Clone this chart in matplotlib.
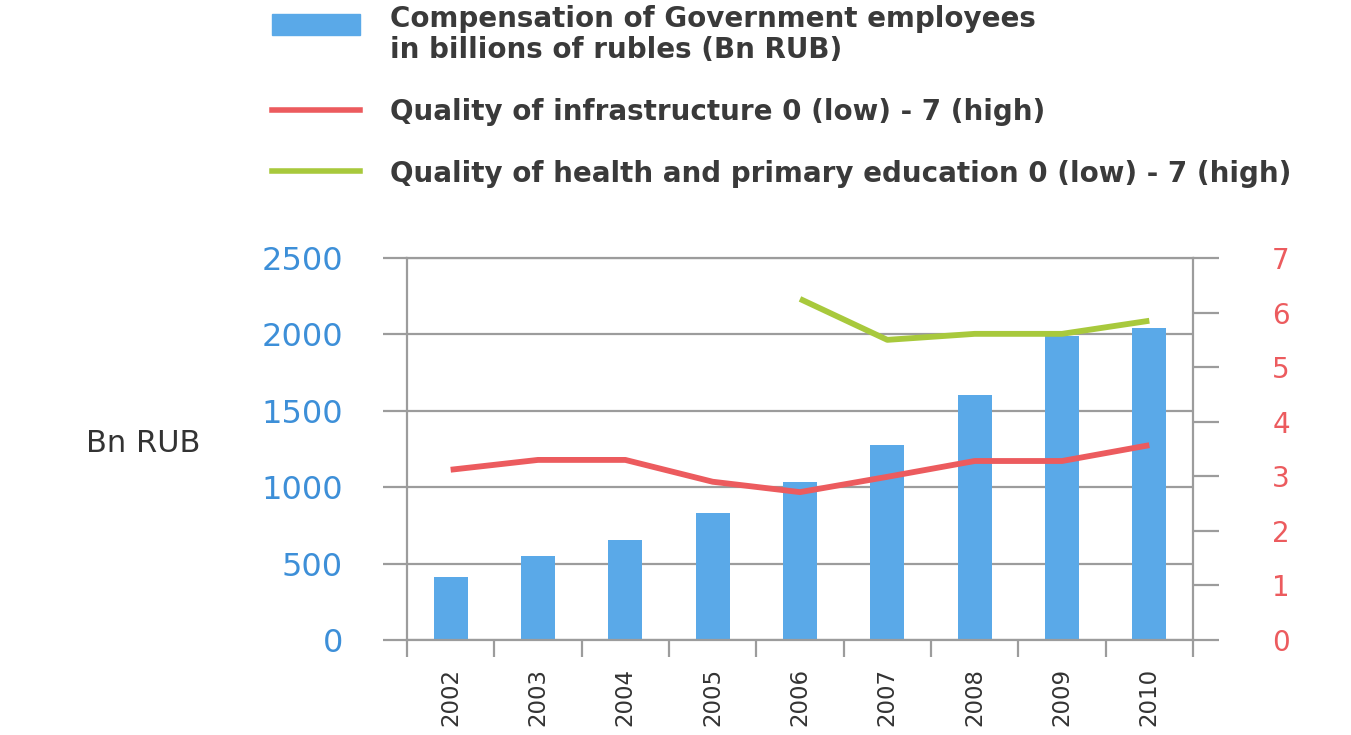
import matplotlib
matplotlib.use("Agg")
import matplotlib.pyplot as plt
import numpy as np
from matplotlib.patches import Rectangle
from matplotlib.lines import Line2D

years = ["2002", "2003", "2004", "2005", "2006", "2007", "2008", "2009", "2010"]
compensation = [412, 550, 654, 831, 1034, 1276, 1603, 1990, 2042]
infrastructure = [3.12, 3.30, 3.30, 2.90, 2.71, 2.99, 3.28, 3.28, 3.57]
health_years = ["2006", "2007", "2008", "2009", "2010"]
health_education = [6.25, 5.50, 5.61, 5.61, 5.85]

bar_color = "#5aa9e8"
red = "#ec5b5e"
green = "#a8c93c"
grid_gray = "#9c9c9c"
text_dark = "#333333"

fig = plt.figure(figsize=(13.51, 7.35), dpi=100)
ax = fig.add_axes([0.30125, 0.12925, 0.5818, 0.51973])
ax2 = ax.twinx()

x = np.arange(len(years))
ax.bar(x, compensation, width=0.39, color=bar_color, zorder=2)

ax.set_xlim(-0.5, len(years) - 0.5)
ax.set_ylim(0, 2500)
ax.set_yticks(np.arange(0, 2501, 500))
ax.yaxis.grid(True, color=grid_gray, linewidth=1.6, zorder=0)
ax.set_axisbelow(True)
ax.tick_params(axis="y", colors=grid_gray, length=17, width=1.6, pad=29,
               labelsize=23, labelcolor="#3d8fd8")

ax.set_xticks(x, years, rotation=90)
ax.set_xticks(np.arange(-0.5, len(years)), minor=True)
ax.tick_params(axis="x", which="major", length=0, pad=20, labelsize=16.5,
               labelcolor=text_dark)
ax.tick_params(axis="x", which="minor", length=12, width=1.6, color=grid_gray)

for s in ax.spines.values():
    s.set_color(grid_gray)
    s.set_linewidth(1.6)

ax.set_ylabel("Bn RUB", rotation=0, fontsize=22, color=text_dark,
              ha="right", va="center")
ax.yaxis.set_label_coords(-0.263, 0.515)

hx = [years.index(y) for y in health_years]
ax2.plot(x, infrastructure, color=red, linewidth=4.2, solid_capstyle="butt")
ax2.plot(hx, health_education, color=green, linewidth=4.2, solid_capstyle="butt")
ax2.set_ylim(0, 7)
ax2.set_yticks(range(0, 8))
ax2.tick_params(axis="y", colors=grid_gray, length=19, width=1.6, pad=38,
                labelsize=20, labelcolor=red)
for s in ax2.spines.values():
    s.set_visible(False)

# legend drawn at the top of the figure
W, H = 1351, 735
fig.add_artist(Rectangle((272 / W, 1 - 35 / H), 88 / W, 21 / H,
                         transform=fig.transFigure, color=bar_color))
fig.add_artist(Line2D([272 / W, 360 / W], [1 - 110 / H] * 2,
                      transform=fig.transFigure, color=red, linewidth=4))
fig.add_artist(Line2D([272 / W, 360 / W], [1 - 171 / H] * 2,
                      transform=fig.transFigure, color=green, linewidth=4))
leg_kw = dict(fontsize=20, fontweight="bold", color="#3a3a3a", ha="left",
              va="baseline")
fig.text(390 / W, 1 - 27 / H, "Compensation of Government employees", **leg_kw)
fig.text(390 / W, 1 - 58 / H, "in billions of rubles (Bn RUB)", **leg_kw)
fig.text(390 / W, 1 - 120 / H, "Quality of infrastructure 0 (low) - 7 (high)",
         **leg_kw)
fig.text(390 / W, 1 - 182 / H,
         "Quality of health and primary education 0 (low) - 7 (high)",
         **leg_kw)

fig.savefig("out.png", dpi=100)
